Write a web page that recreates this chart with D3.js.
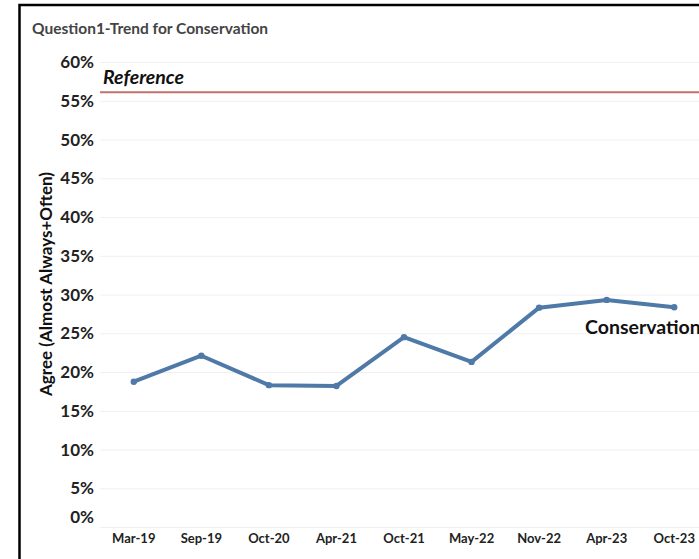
<!DOCTYPE html>
<meta charset="utf-8">
<style>
    body { margin: 0; background: #fff; }
    text { font-family: Lato, "Open Sans", sans-serif; }
</style>
<svg width="699" height="559"></svg>
<script src="https://cdn.jsdelivr.net/npm/d3@7"></script>
<script>

    var periods = ["Mar-19", "Sep-19", "Oct-20", "Apr-21", "Oct-21", "May-22", "Nov-22", "Apr-23", "Oct-23"];
    var conservation = [18.75, 22.1, 18.3, 18.2, 24.5, 21.3, 28.3, 29.3, 28.35];
    var yTicks = [0, 5, 10, 15, 20, 25, 30, 35, 40, 45, 50, 55, 60];
    var referenceValue = 56.1;

    var svg = d3.select("svg"),
        width = +svg.attr("width"),
        height = +svg.attr("height");

    // outer frame (runs off the right and bottom)
    svg.append("rect")
        .attr("x", 19.5)
        .attr("y", 5)
        .attr("width", 720)
        .attr("height", 600)
        .attr("fill", "none")
        .attr("stroke", "#000")
        .attr("stroke-width", 2.5);

    svg.append("text")
        .attr("x", 32)
        .attr("y", 34)
        .attr("font-size", 15.5)
        .attr("font-weight", "bold")
        .attr("fill", "#444")
        .text("Question1-Trend for Conservation");

    var x = d3.scaleBand()
        .domain(periods)
        .range([100, 708]);

    var y = d3.scaleLinear()
        .domain([0, 60])
        .range([527, 62]);

    // gridlines
    svg.append("g")
        .selectAll("line")
        .data(yTicks)
        .enter()
        .append("line")
        .attr("x1", 100)
        .attr("x2", width)
        .attr("y1", function(d) { return y(d) + 0.5; })
        .attr("y2", function(d) { return y(d) + 0.5; })
        .attr("stroke", "#f0f0f0")
        .attr("stroke-width", 1);

    // y tick labels (edge labels nudged inside like the original)
    svg.append("g")
        .selectAll("text")
        .data(yTicks)
        .enter()
        .append("text")
        .attr("x", 94)
        .attr("y", function(d) {
            var yy = y(d);
            if (d === 0) yy -= 10;
            return yy + 6;
        })
        .attr("text-anchor", "end")
        .attr("font-size", 17)
        .attr("font-weight", "bold")
        .attr("fill", "#222")
        .text(function(d) { return d + "%"; });

    // x tick labels
    svg.append("g")
        .selectAll("text")
        .data(periods)
        .enter()
        .append("text")
        .attr("x", function(d) { return x(d) + x.bandwidth() / 2; })
        .attr("y", 543)
        .attr("text-anchor", "middle")
        .attr("font-size", 13)
        .attr("font-weight", "bold")
        .attr("fill", "#222")
        .text(function(d) { return d; });

    // y axis title
    svg.append("text")
        .attr("transform", "translate(52,284) rotate(-90)")
        .attr("text-anchor", "middle")
        .attr("font-size", 17)
        .attr("font-weight", "bold")
        .attr("fill", "#111")
        .text("Agree (Almost Always+Often)");

    // reference line
    svg.append("line")
        .attr("x1", 100)
        .attr("x2", width)
        .attr("y1", y(referenceValue))
        .attr("y2", y(referenceValue))
        .attr("stroke", "#c4706c")
        .attr("stroke-width", 2.2);

    svg.append("text")
        .attr("x", 103)
        .attr("y", y(referenceValue) - 8)
        .attr("font-size", 19.5)
        .attr("font-weight", "bold")
        .attr("font-style", "italic")
        .attr("fill", "#111")
        .text("Reference");

    var line = d3.line()
        .x(function(d, i) { return x(periods[i]) + x.bandwidth() / 2; })
        .y(function(d) { return y(d); });

    svg.append("path")
        .datum(conservation)
        .attr("d", line)
        .attr("fill", "none")
        .attr("stroke", "#4f79a6")
        .attr("stroke-width", 4)
        .attr("stroke-linejoin", "round");

    svg.append("g")
        .selectAll("circle")
        .data(conservation)
        .enter()
        .append("circle")
        .attr("cx", function(d, i) { return x(periods[i]) + x.bandwidth() / 2; })
        .attr("cy", function(d) { return y(d); })
        .attr("r", 3.2)
        .attr("fill", "#4f79a6");

    svg.append("text")
        .attr("x", 585)
        .attr("y", 334)
        .attr("font-size", 19.5)
        .attr("font-weight", "bold")
        .attr("fill", "#111")
        .text("Conservation");

</script>
